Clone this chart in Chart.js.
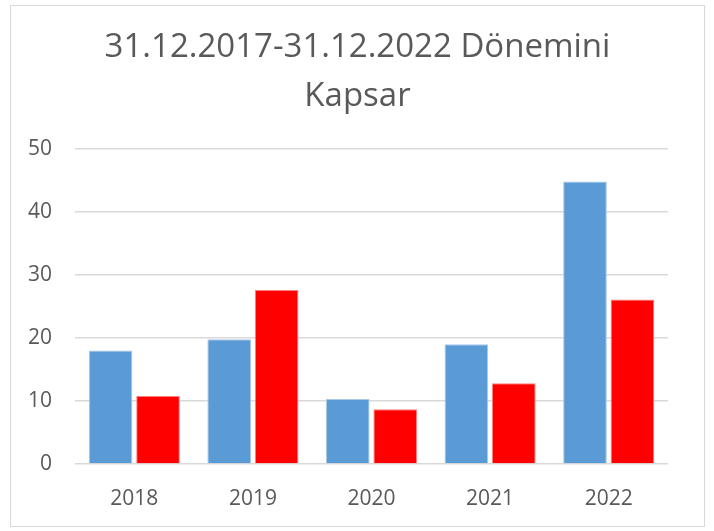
<!DOCTYPE html>
<html>
<head>
<meta charset="utf-8">
<script src="https://cdn.jsdelivr.net/npm/chart.js@4"></script>
<style>
  html, body { margin: 0; padding: 0; background: #fff; }
  #frame {
    position: absolute; left: 10px; top: 5px;
    width: 693px; height: 520px;
    border: 1px solid #d9d9d9;
  }
  #chart { display: block; }
</style>
</head>
<body>
<div id="frame"><canvas id="chart" width="693" height="520"></canvas></div>
<script>
// Chart data
const years = ['2018', '2019', '2020', '2021', '2022'];
const seriesBlue = [18.0, 19.8, 10.3, 19.0, 44.8];
const seriesRed = [10.8, 27.6, 8.7, 12.8, 26.1];
const titleLines = ['31.12.2017-31.12.2022 Dönemini', 'Kapsar'];

document.addEventListener('DOMContentLoaded', function () {
  Chart.defaults.font.family = '"Open Sans", sans-serif';
  Chart.defaults.color = '#595959';

  const ctx = document.getElementById('chart');
  new Chart(ctx, {
    type: 'bar',
    data: {
      labels: years,
      datasets: [
        {
          label: 'Seri 1',
          data: seriesBlue,
          backgroundColor: '#5b9bd5',
          borderColor: '#a9c9ea',
          borderWidth: 1
        },
        {
          label: 'Seri 2',
          data: seriesRed,
          backgroundColor: '#ff0000',
          borderColor: '#ff8080',
          borderWidth: 1
        }
      ]
    },
    options: {
      responsive: false,
      animation: false,
      categoryPercentage: 0.8,
      barPercentage: 0.92,
      layout: { padding: { left: 0, right: 0, top: 0, bottom: 12 } },
      plugins: {
        legend: { display: false },
        tooltip: { enabled: false },
        title: {
          display: true,
          text: titleLines,
          color: '#595959',
          font: { size: 33, weight: 'normal', lineHeight: 1.48 },
          padding: { top: 17, bottom: 28 }
        }
      },
      scales: {
        x: {
          grid: { display: false },
          border: { display: false },
          ticks: { font: { size: 21 }, padding: 14, color: '#595959' },
          afterFit: function (scale) { scale.height = 50; }
        },
        y: {
          min: 0,
          max: 50,
          ticks: { stepSize: 10, font: { size: 21 }, padding: 23, color: '#595959' },
          grid: { color: '#d9d9d9', lineWidth: 1.5, drawTicks: false },
          border: { display: false },
          afterFit: function (scale) { scale.width = 64; }
        },
        // empty right axis, only keeps the right margin so the title stays centred
        spacer: {
          position: 'right',
          min: 0,
          max: 50,
          ticks: { display: false },
          grid: { display: false, drawTicks: false },
          border: { display: false },
          afterFit: function (scale) { scale.width = 36; }
        }
      }
    }
  });
});
</script>
</body>
</html>
